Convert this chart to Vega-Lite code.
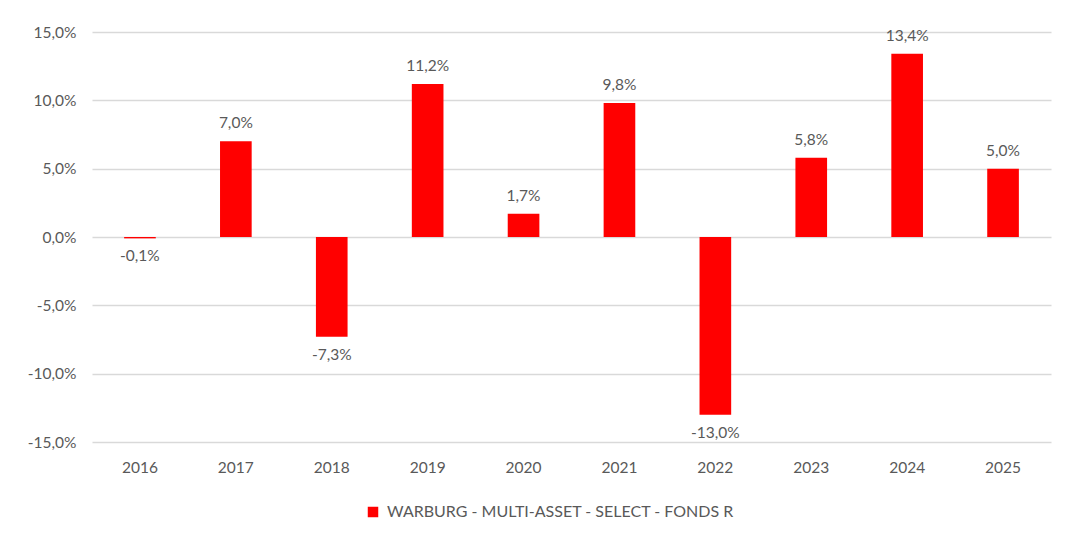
{
  "$schema": "https://vega.github.io/schema/vega-lite/v6.json",
  "autosize": {"type": "none"},
  "padding": {"left": 92, "top": 32, "right": 28, "bottom": 96},
  "width": 959,
  "height": 410,
  "background": "white",
  "config": {
    "locale": {"number": {"decimal": ",", "thousands": ".", "grouping": [3], "currency": ["", " €"], "minus": "-"}},
    "font": "Lato",
    "view": {"stroke": null},
    "axis": {"labelFont": "Lato", "labelFontSize": 15.5, "labelColor": "#595959", "domain": false, "ticks": false}
  },
  "data": {"values": [
    {"year": "2016", "value": -0.001, "series": "WARBURG - MULTI-ASSET - SELECT - FONDS R"},
    {"year": "2017", "value": 0.070, "series": "WARBURG - MULTI-ASSET - SELECT - FONDS R"},
    {"year": "2018", "value": -0.073, "series": "WARBURG - MULTI-ASSET - SELECT - FONDS R"},
    {"year": "2019", "value": 0.112, "series": "WARBURG - MULTI-ASSET - SELECT - FONDS R"},
    {"year": "2020", "value": 0.017, "series": "WARBURG - MULTI-ASSET - SELECT - FONDS R"},
    {"year": "2021", "value": 0.098, "series": "WARBURG - MULTI-ASSET - SELECT - FONDS R"},
    {"year": "2022", "value": -0.130, "series": "WARBURG - MULTI-ASSET - SELECT - FONDS R"},
    {"year": "2023", "value": 0.058, "series": "WARBURG - MULTI-ASSET - SELECT - FONDS R"},
    {"year": "2024", "value": 0.134, "series": "WARBURG - MULTI-ASSET - SELECT - FONDS R"},
    {"year": "2025", "value": 0.050, "series": "WARBURG - MULTI-ASSET - SELECT - FONDS R"}
  ]},
  "encoding": {
    "x": {"field": "year", "type": "ordinal", "title": null,
          "scale": {"paddingInner": 0.67, "paddingOuter": 0.335},
          "axis": {"labelAngle": 0, "labelPadding": 18, "grid": false}},
    "y": {"field": "value", "type": "quantitative", "title": null,
          "scale": {"domain": [-0.15, 0.15], "nice": false},
          "axis": {"values": [-0.15, -0.1, -0.05, 0, 0.05, 0.1, 0.15], "format": ".1%", "labelPadding": 16, "gridColor": "#d9d9d9", "gridWidth": 1.5}}
  },
  "layer": [
    {
      "mark": {"type": "bar"},
      "encoding": {
        "color": {"field": "series", "type": "nominal", "scale": {"range": ["#FF0000"]},
                  "legend": {"title": null, "orient": "none", "legendX": 273, "legendY": 472, "symbolType": "square", "symbolSize": 110, "symbolStrokeWidth": 0, "labelFont": "Lato", "labelFontSize": 16, "labelColor": "#595959", "labelOffset": 6, "labelLimit": 0}}
      }
    },
    {
      "transform": [{"filter": "datum.value >= 0"}],
      "mark": {"type": "text", "baseline": "bottom", "dy": -10, "fontSize": 15.5, "color": "#595959", "font": "Lato"},
      "encoding": {"text": {"field": "value", "type": "quantitative", "format": ".1%"}}
    },
    {
      "transform": [{"filter": "datum.value < 0"}],
      "mark": {"type": "text", "baseline": "top", "dy": 11, "fontSize": 15.5, "color": "#595959", "font": "Lato"},
      "encoding": {"text": {"field": "value", "type": "quantitative", "format": ".1%"}}
    }
  ]
}
